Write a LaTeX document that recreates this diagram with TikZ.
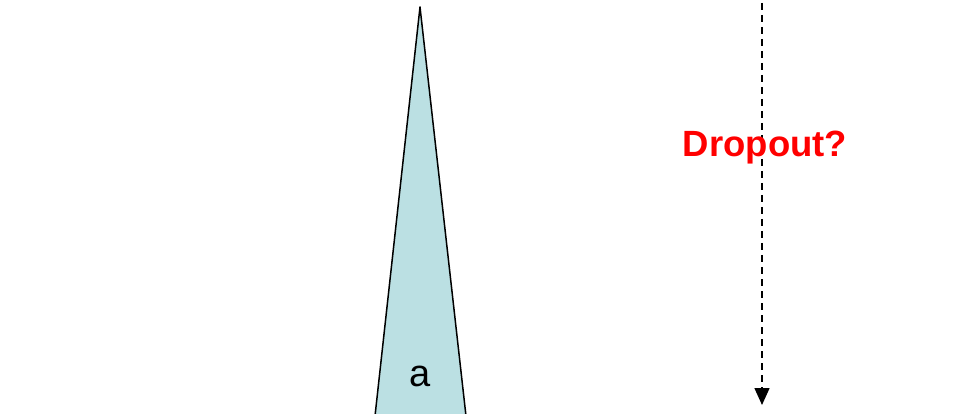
\documentclass[tikz,border=0pt]{standalone}
\usepackage{fontspec}
\setmainfont{Liberation Sans}
\usetikzlibrary{arrows.meta}
\definecolor{spikefill}{RGB}{187,224,227}
\definecolor{dropred}{RGB}{255,0,0}
\tikzset{
  spike/.style={draw=black, fill=spikefill, line width=1.5pt, line join=round},
  droparrow/.style={dashed, dash pattern=on 7pt off 5pt, line width=1.5pt, -{Triangle[length=17pt, width=15pt]}},
  droplabel/.style={font=\fontsize{36.5}{40}\selectfont\bfseries, text=dropred}
}
\begin{document}
\begin{tikzpicture}[x=1pt, y=-1pt]
\useasboundingbox (0,0) rectangle (956,414);
\draw[spike] (375,416) -- (420,7) -- (466,416);
\node[font=\fontsize{38}{42}\selectfont] (alabel) at (420,376) {a};
\coordinate (droptop) at (762,3);
\coordinate (dropend) at (762,405);
\draw[droparrow] (droptop) -- (dropend);
\node[droplabel] (dropout) at (765,148) {Dropout?};
\end{tikzpicture}
\end{document}
